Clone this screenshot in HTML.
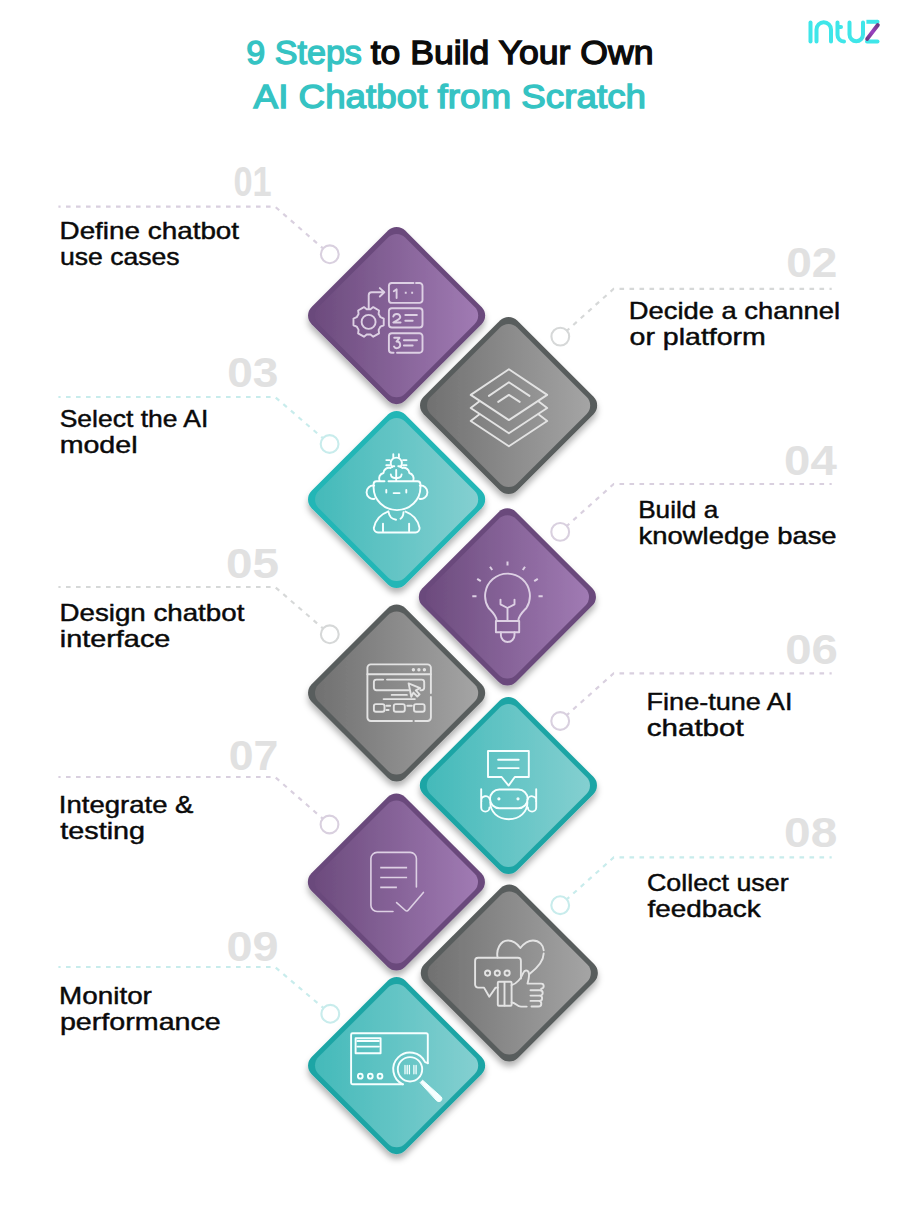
<!DOCTYPE html>
<html><head><meta charset="utf-8"><style>
html,body{margin:0;padding:0;background:#fff;width:900px;height:1215px;overflow:hidden}
svg{display:block}
.lb{font-family:"Liberation Sans", sans-serif;font-size:24px;fill:#0a0a0a;stroke:#0a0a0a;stroke-width:0.45px}
.nm{font-family:"Liberation Sans", sans-serif;font-weight:bold;font-size:43px;fill:#e1e1e1}
.tt{font-family:"Liberation Sans", sans-serif;font-weight:normal;font-size:32.4px;stroke-width:1.3px}
</style></head><body>
<svg width="900" height="1215" viewBox="0 0 900 1215">
<defs>
<linearGradient id="grp" x1="0" y1="1" x2="1" y2="0"><stop offset="0" stop-color="#6b4a7c"/><stop offset="1" stop-color="#a27cb5"/></linearGradient>
<linearGradient id="grg" x1="0" y1="1" x2="1" y2="0"><stop offset="0" stop-color="#6f6f6f"/><stop offset="1" stop-color="#a6a6a6"/></linearGradient>
<linearGradient id="grt" x1="0" y1="1" x2="1" y2="0"><stop offset="0" stop-color="#42b9b9"/><stop offset="1" stop-color="#86d0d1"/></linearGradient>
<linearGradient id="grt2" x1="0" y1="1" x2="1" y2="0"><stop offset="0" stop-color="#42b9b9"/><stop offset="1" stop-color="#86d0d1"/></linearGradient>
<filter id="sh" x="-15%" y="-15%" width="130%" height="135%"><feDropShadow dx="0" dy="5" stdDeviation="3.3" flood-color="#000" flood-opacity="0.3"/></filter>
</defs>
<path d="M58.4 206.6 H275 L323.1 248.5" fill="none" stroke="#d9d0df" stroke-width="2.2" stroke-dasharray="4.6 5.4" stroke-dashoffset="2.4"/>
<circle cx="329.8" cy="254.3" r="8.9" fill="none" stroke="#d9d0df" stroke-width="2.1"/>
<path d="M831.7 288.8 H613.7 L566.9 330.7" fill="none" stroke="#d6d8d8" stroke-width="2.2" stroke-dasharray="4.6 5.4" stroke-dashoffset="2.4"/>
<circle cx="560.3" cy="336.6" r="8.9" fill="none" stroke="#d6d8d8" stroke-width="2.1"/>
<path d="M58.4 397 H275 L322.9 438.2" fill="none" stroke="#c8ecec" stroke-width="2.2" stroke-dasharray="4.6 5.4" stroke-dashoffset="2.4"/>
<circle cx="329.6" cy="444" r="8.9" fill="none" stroke="#c8ecec" stroke-width="2.1"/>
<path d="M831.7 484 H613.7 L566.8 526.0" fill="none" stroke="#d9d0df" stroke-width="2.2" stroke-dasharray="4.6 5.4" stroke-dashoffset="2.4"/>
<circle cx="560.2" cy="531.9" r="8.9" fill="none" stroke="#d9d0df" stroke-width="2.1"/>
<path d="M58.4 587 H275 L323.1 628.5" fill="none" stroke="#d6d8d8" stroke-width="2.2" stroke-dasharray="4.6 5.4" stroke-dashoffset="2.4"/>
<circle cx="329.8" cy="634.3" r="8.9" fill="none" stroke="#d6d8d8" stroke-width="2.1"/>
<path d="M831.7 673.3 H613.7 L566.8 715.1" fill="none" stroke="#d9d0df" stroke-width="2.2" stroke-dasharray="4.6 5.4" stroke-dashoffset="2.4"/>
<circle cx="560.2" cy="721" r="8.9" fill="none" stroke="#d9d0df" stroke-width="2.1"/>
<path d="M58.4 777 H275 L322.8 818.7" fill="none" stroke="#d9d0df" stroke-width="2.2" stroke-dasharray="4.6 5.4" stroke-dashoffset="2.4"/>
<circle cx="329.5" cy="824.5" r="8.9" fill="none" stroke="#d9d0df" stroke-width="2.1"/>
<path d="M831.7 857.4 H613.7 L566.8 899.3" fill="none" stroke="#c8ecec" stroke-width="2.2" stroke-dasharray="4.6 5.4" stroke-dashoffset="2.4"/>
<circle cx="560.2" cy="905.2" r="8.9" fill="none" stroke="#c8ecec" stroke-width="2.1"/>
<path d="M58.4 967 H275 L323.5 1008.1" fill="none" stroke="#c8ecec" stroke-width="2.2" stroke-dasharray="4.6 5.4" stroke-dashoffset="2.4"/>
<circle cx="330.3" cy="1013.8" r="8.9" fill="none" stroke="#c8ecec" stroke-width="2.1"/>
<text id="nm0" x="233.51" y="196.29999999999998" class="nm" textLength="38.24" lengthAdjust="spacingAndGlyphs">01</text>
<text id="nm1" x="786.19" y="277.3" class="nm" textLength="51.21" lengthAdjust="spacingAndGlyphs">02</text>
<text id="nm2" x="227.18" y="387.3" class="nm" textLength="51.26" lengthAdjust="spacingAndGlyphs">03</text>
<text id="nm3" x="784.12" y="474.6" class="nm" textLength="52.70" lengthAdjust="spacingAndGlyphs">04</text>
<text id="nm4" x="225.99" y="578.3000000000001" class="nm" textLength="53.14" lengthAdjust="spacingAndGlyphs">05</text>
<text id="nm5" x="785.16" y="663.6" class="nm" textLength="52.69" lengthAdjust="spacingAndGlyphs">06</text>
<text id="nm6" x="228.65" y="769.6" class="nm" textLength="49.60" lengthAdjust="spacingAndGlyphs">07</text>
<text id="nm7" x="784.10" y="846.6" class="nm" textLength="53.27" lengthAdjust="spacingAndGlyphs">08</text>
<text id="nm8" x="226.53" y="960.6" class="nm" textLength="52.11" lengthAdjust="spacingAndGlyphs">09</text>
<text id="lb0_0" x="59.54" y="239.3" class="lb" textLength="179.58" lengthAdjust="spacingAndGlyphs">Define chatbot</text>
<text id="lb0_1" x="59.92" y="264.6" class="lb" textLength="119.64" lengthAdjust="spacingAndGlyphs">use cases</text>
<text id="lb1_0" x="628.79" y="319.4" class="lb" textLength="211.30" lengthAdjust="spacingAndGlyphs">Decide a channel</text>
<text id="lb1_1" x="629.56" y="345.3" class="lb" textLength="136.34" lengthAdjust="spacingAndGlyphs">or platform</text>
<text id="lb2_0" x="59.73" y="427" class="lb" textLength="148.62" lengthAdjust="spacingAndGlyphs">Select the AI</text>
<text id="lb2_1" x="59.66" y="452.5" class="lb" textLength="77.87" lengthAdjust="spacingAndGlyphs">model</text>
<text id="lb3_0" x="638.18" y="517.6" class="lb" textLength="80.02" lengthAdjust="spacingAndGlyphs">Build a</text>
<text id="lb3_1" x="638.64" y="543.9" class="lb" textLength="197.99" lengthAdjust="spacingAndGlyphs">knowledge base</text>
<text id="lb4_0" x="59.54" y="620.9" class="lb" textLength="184.81" lengthAdjust="spacingAndGlyphs">Design chatbot</text>
<text id="lb4_1" x="59.83" y="646.9" class="lb" textLength="110.51" lengthAdjust="spacingAndGlyphs">interface</text>
<text id="lb5_0" x="646.56" y="709.8" class="lb" textLength="145.89" lengthAdjust="spacingAndGlyphs">Fine-tune AI</text>
<text id="lb5_1" x="646.86" y="735.8" class="lb" textLength="96.76" lengthAdjust="spacingAndGlyphs">chatbot</text>
<text id="lb6_0" x="58.87" y="812.9" class="lb" textLength="134.59" lengthAdjust="spacingAndGlyphs">Integrate &amp;</text>
<text id="lb6_1" x="60.33" y="838.6" class="lb" textLength="84.74" lengthAdjust="spacingAndGlyphs">testing</text>
<text id="lb7_0" x="646.94" y="890.5" class="lb" textLength="141.69" lengthAdjust="spacingAndGlyphs">Collect user</text>
<text id="lb7_1" x="647.62" y="916.6" class="lb" textLength="113.08" lengthAdjust="spacingAndGlyphs">feedback</text>
<text id="lb8_0" x="59.11" y="1003.8" class="lb" textLength="92.76" lengthAdjust="spacingAndGlyphs">Monitor</text>
<text id="lb8_1" x="59.93" y="1029.6" class="lb" textLength="160.87" lengthAdjust="spacingAndGlyphs">performance</text>
<g filter="url(#sh)"><g transform="translate(396.6,315.6) rotate(45)">
  <rect x="-66.2" y="-66.2" width="132.4" height="132.4" rx="12.2" fill="#6a4a7c"/>
  <rect x="-61.2" y="-61.2" width="122.4" height="122.4" rx="12" fill="url(#grp)"/>
</g></g>
<g fill="none" stroke="#ddd0e4" stroke-width="1.9" stroke-linecap="round" stroke-linejoin="round">
<path d="M392 283 H413.5 M416 283 H419.5 A3 3 0 0 1 422.5 286 V299.9 A3 3 0 0 1 419.5 302.9 H391.9 A3 3 0 0 1 388.9 299.9 V286 A3 3 0 0 1 391.9 283"/>
<rect x="388.9" y="308.2" width="33.6" height="19.3" rx="3"/>
<path d="M397 352.7 H419.5 A3 3 0 0 0 422.5 349.7 V336.2 A3 3 0 0 0 419.5 333.2 H391.9 A3 3 0 0 0 388.9 336.2 V349.7 A3 3 0 0 0 391.9 352.7 H393.6"/>
<path d="M393.8 291.2 L396.6 289.3 V298"/>
<path d="M404.8 292.8 h1.9 M411.2 292.8 h1.9" stroke-width="1.9" stroke-linecap="butt"/>
<path d="M393.3 316.6 A3.6 3.6 0 0 1 400.3 317 C400.3 319.5 396 320.5 393.3 322.5 H400.6"/>
<path d="M405.3 315 H416.9 M405.3 320.8 H412.7"/>
<path d="M394.2 337.8 H399.5 L396.5 341.6 A3.3 3.3 0 1 1 394 346.5"/>
<path d="M403.9 340.2 H417 M403.9 345.5 H412.7"/>
<path d="M383.73 318.55 L383.73 325.25 L380.51 326.59 L378.62 329.87 L379.07 333.33 L373.26 336.68 L370.49 334.56 L366.71 334.56 L363.94 336.68 L358.13 333.33 L358.58 329.87 L356.69 326.59 L353.47 325.25 L353.47 318.55 L356.69 317.21 L358.58 313.93 L358.13 310.47 L363.94 307.12 L366.71 309.24 L370.49 309.24 L373.26 307.12 L379.07 310.47 L378.62 313.93 L380.51 317.21Z"/>
<circle cx="368.6" cy="321.9" r="7"/>
<path d="M368.7 309 V295.3 A3 3 0 0 1 371.7 292.3 H384.3 M379.8 288.1 L384.3 292.3 L379.8 296.5"/>
</g>
<g filter="url(#sh)"><g transform="translate(508.6,405.5) rotate(45)">
  <rect x="-66.2" y="-66.2" width="132.4" height="132.4" rx="12.2" fill="#595d5d"/>
  <rect x="-61.2" y="-61.2" width="122.4" height="122.4" rx="12" fill="url(#grg)"/>
</g></g>
<g fill="none" stroke="#e3e3e3" stroke-width="1.9" stroke-linecap="round" stroke-linejoin="round">
<path d="M508.9 369.3 L547.2 394.9 L508.9 420.1 L470.7 394.9 Z"/>
<path d="M479.5 401.3 L470.7 408 L508.9 433.2 L547.2 408 L538.4 401.3"/>
<path d="M479.5 414.3 L470.7 421 L508.9 446.3 L547.2 421 L538.4 414.3"/>
<path d="M488.9 395.9 L508.9 382.3 L529.5 395.9"/>
<path d="M498.2 401.9 L508.9 394.9 L519.7 401.9"/>
</g>
<g filter="url(#sh)"><g transform="translate(396.6,499.5) rotate(45)">
  <rect x="-66.2" y="-66.2" width="132.4" height="132.4" rx="12.2" fill="#22b6b6"/>
  <rect x="-61.2" y="-61.2" width="122.4" height="122.4" rx="12" fill="url(#grt)"/>
</g></g>
<g fill="none" stroke="#f6ffff" stroke-width="1.9" stroke-linecap="round" stroke-linejoin="round">
<path d="M376.5 481.2 H384.5 M388.5 481.2 H417.5 A3 3 0 0 1 420.4 484.2 V487.5 A23.4 22.6 0 0 1 373.6 487.5 V484.2 A3 3 0 0 1 376.5 481.2"/>
<path d="M374.2 485.6 A6.7 6.7 0 1 0 374.6 498.8"/>
<path d="M419.8 485.6 A6.7 6.7 0 1 1 419.4 498.8"/>
<path d="M386.3 490 V492.6 M406.3 490 V492.6 M393.6 493.1 H399.6"/>
<path d="M388 511.6 A22 22 0 0 0 373.8 528 A4.5 4.5 0 0 0 378 532.5 H415.5 A4.5 4.5 0 0 0 419.6 528 A22 22 0 0 0 405.5 511.6"/>
<path d="M388.5 511.5 C389 516 391.5 519 396 519.8 M400.5 518.8 C402.5 517.5 403.3 515.5 403.5 512.3"/>
<path d="M383 523.6 V531.3 M409.1 523.6 V531.3"/>
<path d="M379.5 480.6 C378.5 477.5 379.5 474 383.5 473 C383.5 469.5 387 467.2 390.5 468 C391.5 466.5 393 466 394.3 466.3 M398.3 466.3 C399.8 466 401.2 466.5 402.2 468 C405.8 467.2 409.3 469.5 409.3 473 C413 474 414.3 477.5 413.3 480.6"/>
<path d="M396.2 480.5 V470 M390.8 474.5 C391 477 393.5 478.5 396.2 477.8 M401.6 474.5 C401.4 477 398.9 478.5 396.2 477.8"/>
<path d="M392.2 467 A5.6 5.6 0 1 1 400.4 467"/>
<path d="M393.3 454.2 V457.6 M398.9 454.2 V457.6 M386.3 460.1 H389.8 M386.3 465.3 H389.8 M403 460.1 H406.5 M403 465.3 H406.5"/>
</g>
<g filter="url(#sh)"><g transform="translate(507.4,596.9) rotate(45)">
  <rect x="-66.2" y="-66.2" width="132.4" height="132.4" rx="12.2" fill="#6a4a7c"/>
  <rect x="-61.2" y="-61.2" width="122.4" height="122.4" rx="12" fill="url(#grp)"/>
</g></g>
<g fill="none" stroke="#ddd0e4" stroke-width="1.9" stroke-linecap="round" stroke-linejoin="round">
<path d="M496.8 621 C496.5 615.5 492 611.5 488.6 608 A22.4 22.4 0 1 1 526.4 608 C523 611.5 518.5 615.5 518.2 621"/>
<rect x="495.9" y="621" width="23.3" height="11.3"/>
<path d="M500.9 632.3 V635.2 A6.8 6.8 0 0 0 514.5 635.2 V632.3"/>
<path d="M507.5 621 V608 L500.5 604.3 V599.6 M507.5 608 L514.5 604.3 V599.6"/>
<path d="M507.5 561.5 V565.5 M490 566.8 L492.2 570 M525 566.8 L522.8 570 M477.2 578.8 L480.8 581.2 M537.8 578.8 L534.2 581.2 M472.3 596.3 H476.5 M538.5 596.3 H542.7" stroke-width="2" stroke-linecap="butt"/>
</g>
<g filter="url(#sh)"><g transform="translate(396.6,693) rotate(45)">
  <rect x="-66.2" y="-66.2" width="132.4" height="132.4" rx="12.2" fill="#595d5d"/>
  <rect x="-61.2" y="-61.2" width="122.4" height="122.4" rx="12" fill="url(#grg)"/>
</g></g>
<g fill="none" stroke="#e3e3e3" stroke-width="1.9" stroke-linecap="round" stroke-linejoin="round">
<path d="M430.9 693 V667.8 A3.4 3.4 0 0 0 427.5 664.4 H370.8 A3.4 3.4 0 0 0 367.4 667.8 V717.6 A3.4 3.4 0 0 0 370.8 721 H412 M415.3 721 H427.5 A3.4 3.4 0 0 0 430.9 717.6 V697"/>
<path d="M367.4 674.2 H430.9"/>
<circle cx="413.4" cy="669.7" r="0.9" stroke-width="1.6"/>
<circle cx="418.9" cy="669.7" r="0.9" stroke-width="1.6"/>
<circle cx="424.4" cy="669.7" r="0.9" stroke-width="1.6"/>
<path d="M383.2 679.6 H376.4 A2.5 2.5 0 0 0 373.9 682.1 V687.7 A2.5 2.5 0 0 0 376.4 690.2 H408.5 M420.5 690.2 H421.7 A2.5 2.5 0 0 0 424.2 687.7 V682.1 A2.5 2.5 0 0 0 421.7 679.6 H387"/>
<path d="M408.6 683.4 L420.2 688.2 L415.8 690.3 L419.6 694.3 L417.3 696.5 L413.4 692.6 L411.3 696.8 Z"/>
<path d="M391.7 694.9 H406.9 M383.6 699.1 H414.9"/>
<rect x="373.9" y="704.1" width="10.6" height="7.6" rx="2"/>
<rect x="393.8" y="704.1" width="11" height="7.6" rx="2"/>
<rect x="414" y="704.1" width="10.6" height="7.6" rx="2"/>
<path d="M386.4 705.8 H390.2 M386.4 710 H388.6 M407.3 705.8 H411.8"/>
</g>
<g filter="url(#sh)"><g transform="translate(508.4,785.5) rotate(45)">
  <rect x="-66.2" y="-66.2" width="132.4" height="132.4" rx="12.2" fill="#1fa5a5"/>
  <rect x="-61.2" y="-61.2" width="122.4" height="122.4" rx="12" fill="url(#grt2)"/>
</g></g>
<g fill="none" stroke="#f6ffff" stroke-width="1.9" stroke-linecap="round" stroke-linejoin="round">
<path d="M488 751 H528.8 V777 H514.8 L508.6 785.6 L501.6 777 H488 Z"/>
<path d="M498.1 759.8 H518.7 M498.1 768.1 H518.7"/>
<rect x="490" y="789.5" width="37.7" height="18.7" rx="9.35"/>
<path d="M490.3 802 C490 812 498 819.2 508.8 819.2 C519.6 819.2 527.6 812 527.4 802"/>
<circle cx="498.9" cy="798.8" r="0.7" stroke-width="1.8"/>
<circle cx="518" cy="798.8" r="0.7" stroke-width="1.8"/>
<path d="M481.2 789.2 V807.5 A4.1 4.1 0 0 0 489.5 807.5 M490 799.7 A4 4 0 0 0 481.4 801.5"/>
<path d="M536.2 789.2 V807.5 A4.1 4.1 0 0 1 527.9 807.5 M527.4 799.7 A4 4 0 0 1 536 801.5"/>
</g>
<g filter="url(#sh)"><g transform="translate(396.4,882) rotate(45)">
  <rect x="-66.2" y="-66.2" width="132.4" height="132.4" rx="12.2" fill="#6a4a7c"/>
  <rect x="-61.2" y="-61.2" width="122.4" height="122.4" rx="12" fill="url(#grp)"/>
</g></g>
<g fill="none" stroke="#ddd0e4" stroke-width="1.9" stroke-linecap="round" stroke-linejoin="round">
<path d="M416.4 887 V858.6 A6.2 6.2 0 0 0 410.2 852.4 H377.1 A6.2 6.2 0 0 0 370.9 858.6 V905.3 A6.2 6.2 0 0 0 377.1 911.5 H393" stroke-width="1.6"/>
<path d="M380.2 867.6 H407.1 M380.2 877.5 H407.1 M380.2 887.4 H396.9" stroke-width="1.6" stroke-linecap="butt"/>
<path d="M396.6 902.6 L405.5 910.5 A1.8 1.8 0 0 0 408.2 910.3 L423.4 892.4" stroke-width="1.6"/>
</g>
<g filter="url(#sh)"><g transform="translate(509.3,973) rotate(45)">
  <rect x="-66.2" y="-66.2" width="132.4" height="132.4" rx="12.2" fill="#595d5d"/>
  <rect x="-61.2" y="-61.2" width="122.4" height="122.4" rx="12" fill="url(#grg)"/>
</g></g>
<g fill="none" stroke="#e3e3e3" stroke-width="1.9" stroke-linecap="round" stroke-linejoin="round">
<path d="M497.6 957.5 C496 950 500 940.5 508 940.5 C513.5 940.5 517.5 944 520.4 948 C523.5 944 527.5 940.5 533 940.5 C539.5 940.5 543.5 945.5 543.7 950.3 M543.7 953.5 C543.5 961 536 969 529.5 974"/>
<path d="M497.8 987.6 H495.6 L489.3 996.8 L484 987.6 H478.1 A3 3 0 0 1 475.1 984.6 V960.8 A3 3 0 0 1 478.1 957.8 H517.9 A3 3 0 0 1 520.9 960.8 V978.5"/>
<circle cx="487.6" cy="973.1" r="2.6"/>
<circle cx="497.3" cy="973.1" r="2.6"/>
<circle cx="507.1" cy="973.1" r="2.6"/>
<rect x="497.8" y="981.8" width="13.8" height="24" rx="1"/>
<path d="M504.5 982 V1005.6"/>
<path d="M511.6 985.2 C517 983.5 521 978.5 523.5 972.5 C524.5 970 527.5 970 528.5 972 C530 975 528.5 980 527.5 983.6 H541.2 A2.5 2.5 0 0 1 541.2 988.6 M530.5 990.2 H540 A2.6 2.6 0 0 1 540 995.6 M530.5 995.6 H539.5 A2.6 2.6 0 0 1 539.5 1000.9 M530.5 1000.9 H538.5 A2.8 2.8 0 0 1 538.5 1006.5 H531.5 M526.7 1006.6 H521 C517 1006.6 515.5 1002.5 511.6 1002.5"/>
</g>
<g filter="url(#sh)"><g transform="translate(396.6,1065.6) rotate(45)">
  <rect x="-66.2" y="-66.2" width="132.4" height="132.4" rx="12.2" fill="#1fa5a5"/>
  <rect x="-61.2" y="-61.2" width="122.4" height="122.4" rx="12" fill="url(#grt2)"/>
</g></g>
<g fill="none" stroke="#f6ffff" stroke-width="1.9" stroke-linecap="round" stroke-linejoin="round">
<path d="M427.8 1063.2 V1034.7 A1.5 1.5 0 0 0 426.3 1033.2 H352.6 A1.5 1.5 0 0 0 351.1 1034.7 V1082.8 A1.5 1.5 0 0 0 352.6 1084.3 H403"/>
<rect x="355.6" y="1038.2" width="25" height="15"/>
<path d="M357.3 1041 H378.9 M357.3 1046.6 H378.9"/>
<circle cx="360.3" cy="1076.2" r="2.4"/>
<circle cx="370.3" cy="1076.2" r="2.4"/>
<circle cx="380" cy="1076.2" r="2.4"/>
<path d="M427.8 1063.2 L425.1 1062.2 A16.7 16.7 0 1 0 402.8 1084.3"/>
<circle cx="410" cy="1069.3" r="12.2"/>
<path d="M405 1065.4 V1073.8 M407.2 1065.4 V1073.8 M409.4 1065.4 V1073.8 M413.9 1065.4 V1073.8 M416.1 1065.4 V1073.8" stroke-width="1.3"/>
<path d="M420.4 1082.4 L422.6 1080.2 L441.3 1096.9 A3 3 0 0 1 437.1 1101.1 Z" fill="#f6ffff" stroke-width="1"/>
</g>
<text id="tt0" x="246.26" y="63.5" class="tt" fill="#35c3c3" stroke="#35c3c3" textLength="115.66" lengthAdjust="spacingAndGlyphs">9 Steps</text>
<text id="tt1" x="370.65" y="63.5" class="tt" fill="#0b0b0b" stroke="#0b0b0b" textLength="282.78" lengthAdjust="spacingAndGlyphs">to Build Your Own</text>
<text id="tt2" x="253.63" y="108.4" class="tt" fill="#35c3c3" stroke="#35c3c3" textLength="392.34" lengthAdjust="spacingAndGlyphs">AI Chatbot from Scratch</text>

<defs><linearGradient id="zg" gradientUnits="userSpaceOnUse" x1="877.8" y1="25" x2="867.2" y2="38.9"><stop offset="0" stop-color="#6e3a86"/><stop offset="0.5" stop-color="#9c40c2"/><stop offset="1" stop-color="#6e3a86"/></linearGradient></defs>
<g fill="none" stroke="#3fe6e9" stroke-width="4" stroke-linecap="round">
<path d="M810.5 22.5 V41.5"/>
<path d="M816.5 41.5 V29.5 A7.25 7.25 0 0 1 831 29.5 V41.5"/>
<path d="M837.5 22.5 V35 A6.5 6.5 0 0 0 844 41.5 M837.5 27 H841"/>
<path d="M849.5 22.5 V34.5 A6.75 6.75 0 0 0 863 34.5 V22.5"/>
<path d="M866.4 21.8 H877.2" stroke-linecap="butt"/><path d="M877.2 21.8 h0.3"/>
<path d="M867 41.4 H877.5"/>
</g>
<path d="M877.8 25 L867.2 38.9" stroke="url(#zg)" stroke-width="4" stroke-linecap="round"/>
</svg>
</body></html>
